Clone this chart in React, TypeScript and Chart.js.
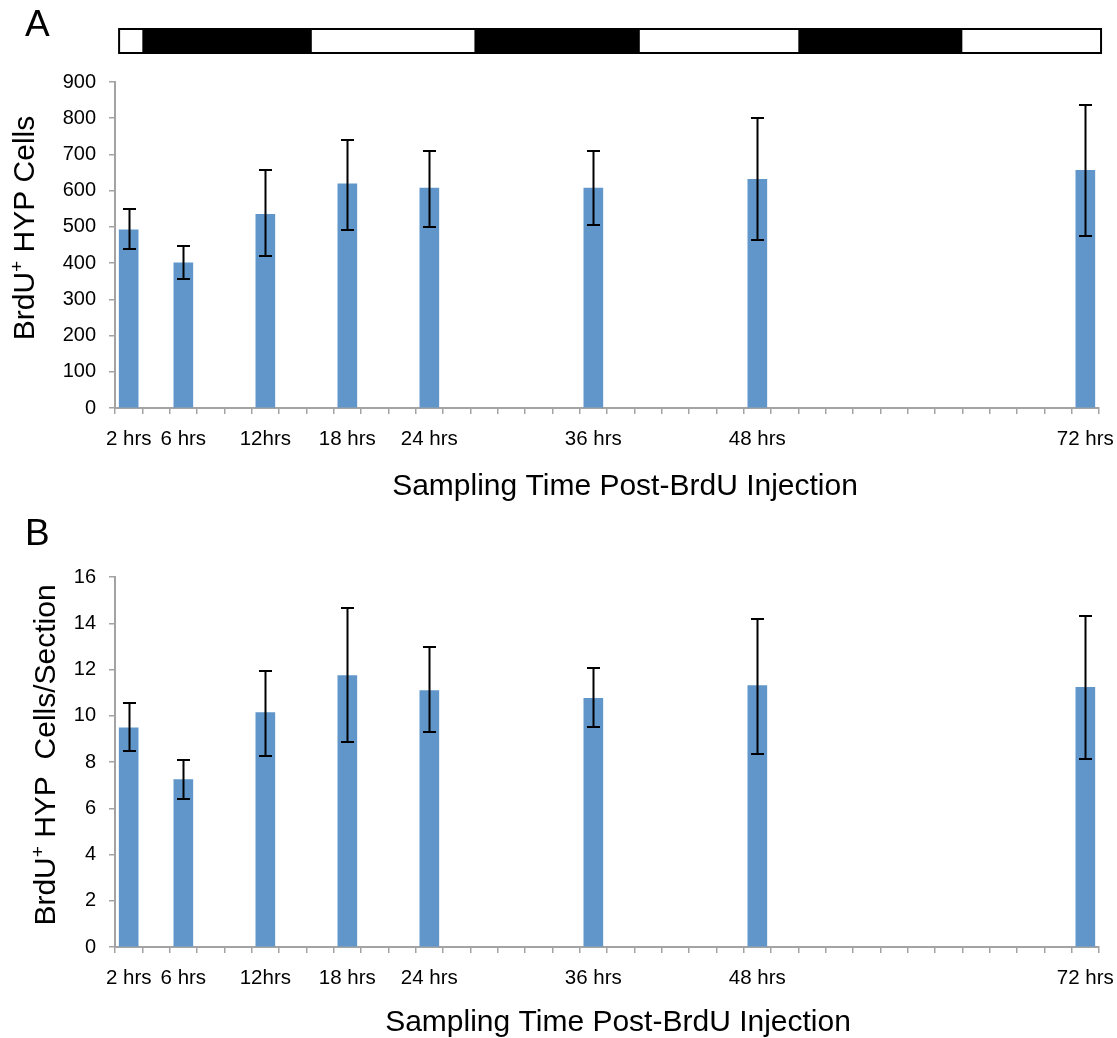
import React, { useEffect, useRef } from 'react';
import { Chart, registerables } from 'chart.js';

Chart.register(...registerables);

// ---------- data ----------
const hours = [2, 6, 12, 18, 24, 36, 48, 72];
const xTickHours = [2, 4, 6, 8, 10, 12, 14, 16, 18, 20, 22, 24, 26, 28, 30, 32, 34, 36, 38, 40, 42, 44, 46, 48, 50, 52, 54, 56, 58, 60, 62, 64, 66, 68, 70, 72];
const xTickLabels: Record<number, string> = {
  2: '2 hrs', 6: '6 hrs', 12: '12hrs', 18: '18 hrs', 24: '24 hrs', 36: '36 hrs', 48: '48 hrs', 72: '72 hrs',
};

// Panel A: BrdU+ HYP cells
const cellsMean = [492, 401, 535, 619, 607, 607, 631, 656];
const cellsUpper = [549, 446, 656, 740, 710, 710, 800, 837];
const cellsLower = [439, 356, 421, 492, 501, 505, 463, 475];

// Panel B: BrdU+ HYP cells / section
const sectionMean = [9.48, 7.24, 10.14, 11.74, 11.09, 10.75, 11.31, 11.23];
const sectionUpper = [10.53, 8.07, 11.94, 14.68, 12.96, 12.05, 14.2, 14.3];
const sectionLower = [8.49, 6.39, 8.27, 8.85, 9.31, 9.5, 8.35, 8.15];

// light/dark schedule (hours)
const scheduleStart = 1.3;
const scheduleEnd = 73.15;
const darkStart = [3, 27.3, 51];
const darkEnd = [15.4, 39.4, 63];

const FONT = '"Liberation Sans", Arial, Helvetica, sans-serif';
const BAR = '#6196ca';
const AXIS = '#a3a3a3';

type PanelOpts = {
  letter: string;
  letterY: number;
  mean: number[];
  upper: number[];
  lower: number[];
  yMax: number;
  yStep: number;
  yTitleParts: [string, string, string];
  yTitleX: number;
  yTitleY: number;
  xTitleX: number;
  xTitleY: number;
  top: number;
  axisHeight: number;
  schedule: boolean;
};

function drawYTitle(ctx: CanvasRenderingContext2D, parts: [string, string, string], x: number, y: number) {
  const main = '30px ' + FONT;
  const sup = '19px ' + FONT;
  ctx.save();
  ctx.translate(x, y);
  ctx.rotate(-Math.PI / 2);
  ctx.fillStyle = '#000';
  ctx.textBaseline = 'alphabetic';
  ctx.textAlign = 'left';
  ctx.font = main;
  const w1 = ctx.measureText(parts[0]).width;
  const w3 = ctx.measureText(parts[2]).width;
  ctx.font = sup;
  const w2 = ctx.measureText(parts[1]).width;
  const total = w1 + w2 + w3;
  let cx = -total / 2;
  ctx.font = main;
  ctx.fillText(parts[0], cx, 0);
  cx += w1;
  ctx.font = sup;
  ctx.fillText(parts[1], cx, -11);
  cx += w2;
  ctx.font = main;
  ctx.fillText(parts[2], cx, 0);
  ctx.restore();
}

function makeOverlay(o: PanelOpts) {
  return {
    id: 'overlay',
    afterDatasetsDraw(chart: any) {
      const { ctx } = chart;
      const x = chart.scales.x;
      const y = chart.scales.y;
      ctx.save();
      ctx.strokeStyle = '#000';
      ctx.lineWidth = 2;
      hours.forEach((h, i) => {
        const px = Math.round(x.getPixelForValue(h)) + 0.5;
        const yt = Math.round(y.getPixelForValue(o.upper[i]));
        const yb = Math.round(y.getPixelForValue(o.lower[i]));
        ctx.beginPath();
        ctx.moveTo(px, yt);
        ctx.lineTo(px, yb);
        ctx.moveTo(px - 6.5, yt);
        ctx.lineTo(px + 6.5, yt);
        ctx.moveTo(px - 6.5, yb);
        ctx.lineTo(px + 6.5, yb);
        ctx.stroke();
      });
      ctx.restore();
    },
    afterDraw(chart: any) {
      const { ctx } = chart;
      const x = chart.scales.x;
      ctx.save();
      // panel letter
      ctx.fillStyle = '#000';
      ctx.font = '37px ' + FONT;
      ctx.textAlign = 'left';
      ctx.textBaseline = 'alphabetic';
      ctx.fillText(o.letter, 25, o.letterY);
      // x title
      ctx.font = '30px ' + FONT;
      ctx.textAlign = 'center';
      ctx.fillText('Sampling Time Post-BrdU Injection', o.xTitleX, o.xTitleY);
      ctx.restore();
      drawYTitle(ctx, o.yTitleParts, o.yTitleX, o.yTitleY);
      // light/dark schedule
      if (o.schedule) {
        const l = x.getPixelForValue(scheduleStart);
        const r = x.getPixelForValue(scheduleEnd);
        const t = 29;
        const b = 53;
        ctx.save();
        ctx.fillStyle = '#fff';
        ctx.fillRect(l, t, r - l, b - t);
        ctx.fillStyle = '#000';
        darkStart.forEach((s, i) => {
          const a = x.getPixelForValue(s);
          const e = x.getPixelForValue(darkEnd[i]);
          ctx.fillRect(a, t, e - a, b - t);
        });
        ctx.strokeStyle = '#000';
        ctx.lineWidth = 2;
        ctx.strokeRect(l, t, r - l, b - t);
        ctx.restore();
      }
    },
  };
}

function buildChart(canvas: HTMLCanvasElement, o: PanelOpts) {
  return new Chart(canvas, {
    type: 'bar',
    data: {
      datasets: [
        {
          data: hours.map((h, i) => ({ x: h, y: o.mean[i] })),
          backgroundColor: BAR,
          borderWidth: 0,
          barThickness: 19,
        },
      ],
    },
    options: {
      responsive: false,
      animation: false,
      events: [],
      layout: { padding: { top: o.top, right: 18, left: 0, bottom: 0 } },
      plugins: { legend: { display: false }, tooltip: { enabled: false } },
      scales: {
        x: {
          type: 'linear',
          min: 1,
          max: 73,
          offset: false,
          afterFit(scale: any) {
            scale.height = o.axisHeight;
            scale.paddingLeft = 0;
            scale.paddingRight = 0;
          },
          afterBuildTicks(scale: any) {
            scale.ticks = xTickHours.map((v) => ({ value: v }));
          },
          grid: {
            drawOnChartArea: false,
            drawTicks: true,
            tickLength: 6,
            color: AXIS,
            lineWidth: 1.5,
          },
          border: { display: true, color: AXIS, width: 2 },
          ticks: {
            autoSkip: false,
            maxRotation: 0,
            minRotation: 0,
            padding: 13,
            color: '#000',
            font: { size: 20.5, family: FONT },
            callback: (v: any) => xTickLabels[v as number] ?? '',
          },
        },
        y: {
          min: 0,
          max: o.yMax,
          afterFit(scale: any) {
            scale.width = 115;
            scale.paddingTop = 0;
            scale.paddingBottom = 0;
          },
          grid: {
            drawOnChartArea: false,
            drawTicks: true,
            tickLength: 6,
            color: AXIS,
            lineWidth: 1.5,
          },
          border: { display: true, color: AXIS, width: 2 },
          ticks: {
            stepSize: o.yStep,
            padding: 13,
            color: '#000',
            font: { size: 20, family: FONT },
          },
        },
      },
    },
    plugins: [makeOverlay(o)],
  } as any);
}

export default function App() {
  const refA = useRef<HTMLCanvasElement | null>(null);
  const refB = useRef<HTMLCanvasElement | null>(null);

  useEffect(() => {
    const a = buildChart(refA.current!, {
      letter: 'A',
      letterY: 36,
      mean: cellsMean,
      upper: cellsUpper,
      lower: cellsLower,
      yMax: 900,
      yStep: 100,
      yTitleParts: ['BrdU', '+', ' HYP Cells'],
      yTitleX: 34,
      yTitleY: 228,
      xTitleX: 625,
      xTitleY: 495,
      top: 82,
      axisHeight: 102,
      schedule: true,
    });
    const b = buildChart(refB.current!, {
      letter: 'B',
      letterY: 35,
      mean: sectionMean,
      upper: sectionUpper,
      lower: sectionLower,
      yMax: 16,
      yStep: 2,
      yTitleParts: ['BrdU', '+', ' HYP  Cells/Section'],
      yTitleX: 55,
      yTitleY: 245,
      xTitleX: 618,
      xTitleY: 521,
      top: 67,
      axisHeight: 91,
      schedule: false,
    });
    return () => {
      a.destroy();
      b.destroy();
    };
  }, []);

  return (
    <div style={{ position: 'absolute', left: 0, top: 0, width: 1117, height: 1038, background: '#fff' }}>
      <canvas ref={refA} width={1117} height={510} style={{ position: 'absolute', left: 0, top: 0, width: 1117, height: 510 }} />
      <canvas ref={refB} width={1117} height={528} style={{ position: 'absolute', left: 0, top: 510, width: 1117, height: 528 }} />
    </div>
  );
}
